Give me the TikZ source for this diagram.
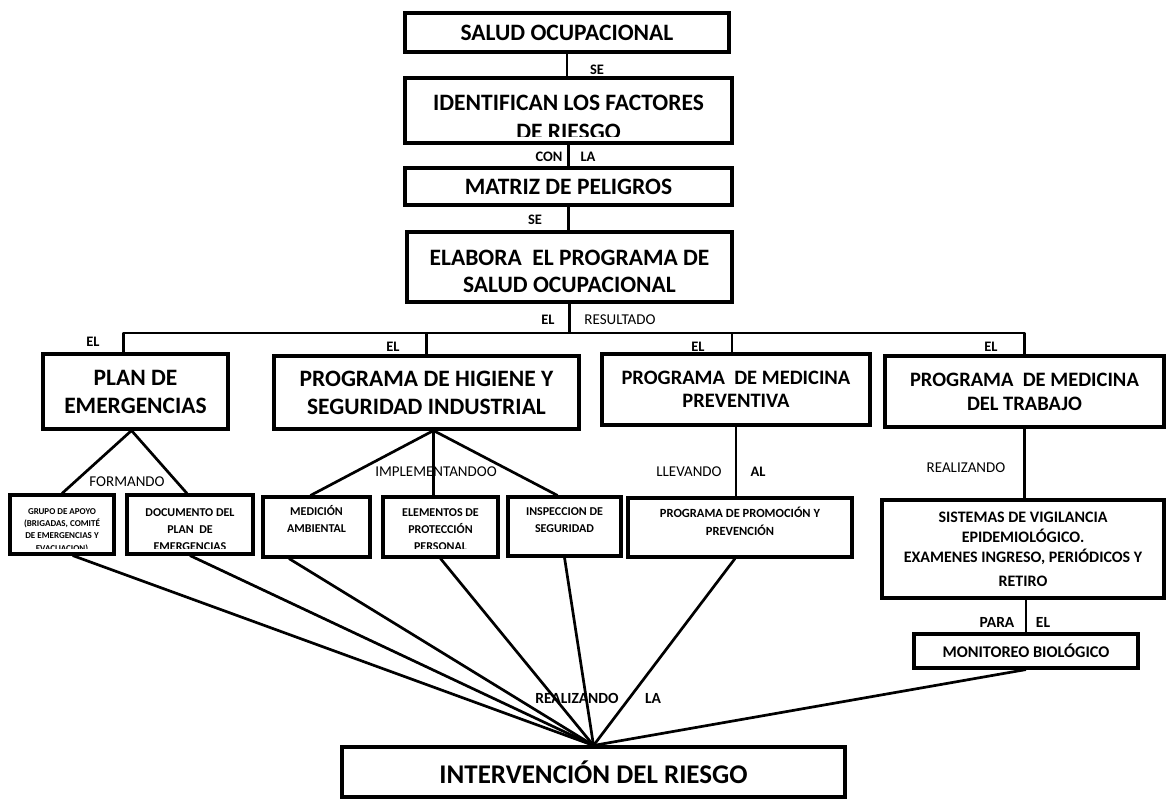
\documentclass[tikz,border=0pt]{standalone}
\usepackage{fontspec}
\setmainfont{Carlito}
\usetikzlibrary{positioning, calc}

\begin{document}
\begin{tikzpicture}[x=1pt, y=-1pt,
		box/.style={draw, line width=3.1pt, inner sep=0pt, align=center},
		bigtxt/.style={font=\bfseries\fontsize{23.5}{27}\selectfont},
		smalltxt/.style={inner sep=0pt, align=center, font=\bfseries\fontsize{12}{17}\selectfont},
		conn/.style={line width=2.7pt, line join=round},
		lbl/.style={inner sep=0pt, font=\bfseries\fontsize{14.5}{16}\selectfont},
		lblr/.style={inner sep=0pt, font=\fontsize{15}{17}\selectfont}]
		\useasboundingbox (0,0) rectangle (1167,808);

		% cadena superior
		\node[box, bigtxt, minimum width=324, minimum height=39] (salud) at (567,32.5) {SALUD OCUPACIONAL};
		\node[box, minimum width=327, minimum height=65] (identif) at (568.5,110.5) {};
		\begin{scope}
			\clip (identif.north west) rectangle ([yshift=8pt]identif.south east);
			\node[inner sep=0pt, align=center, font=\bfseries\fontsize{23.5}{29}\selectfont] (identiftxt) at (568.5,117) {IDENTIFICAN LOS FACTORES\\DE RIESGO};
		\end{scope}
		\node[box, bigtxt, minimum width=327, minimum height=37] (matriz) at (568.5,186.5) {MATRIZ DE PELIGROS};
		\node[box, minimum width=325, minimum height=70] (elabora) at (569.5,267) {};
		\node[inner sep=0pt, align=center, bigtxt] (elaboratxt) at (569.5,271.5) {ELABORA\ \ EL PROGRAMA DE\\SALUD OCUPACIONAL};

		% programas
		\node[box, bigtxt, font=\bfseries\fontsize{23.5}{28}\selectfont, minimum width=185, minimum height=75] (plan) at (135.5,391.5) {PLAN DE\\EMERGENCIAS};
		\node[box, bigtxt, font=\bfseries\fontsize{23.5}{28}\selectfont, minimum width=305, minimum height=73] (higiene) at (426.5,392.5) {PROGRAMA DE HIGIENE Y\\SEGURIDAD INDUSTRIAL};
		\node[box, font=\bfseries\fontsize{20.5}{23}\selectfont, minimum width=268, minimum height=71] (medprev) at (736,389.5) {PROGRAMA\ \ DE MEDICINA\\PREVENTIVA};
		\node[box, font=\bfseries\fontsize{20.5}{24}\selectfont, minimum width=279, minimum height=71] (medtrab) at (1024.5,391.5) {PROGRAMA\ \ DE MEDICINA\\DEL TRABAJO};

		% cajas pequenas
		\node[box, minimum width=104, minimum height=59] (grupo) at (62,524.5) {};
		\begin{scope}
			\clip (grupo.north west) rectangle ([yshift=7pt]grupo.south east);
			\node[smalltxt, font=\bfseries\fontsize{9}{12.3}\selectfont] (grupotxt) at (62,530.5) {GRUPO DE APOYO\\(BRIGADAS, COMITÉ\\DE EMERGENCIAS Y\\EVACUACION)};
		\end{scope}
		\node[box, minimum width=126, minimum height=59] (docu) at (190,524.5) {};
		\begin{scope}
			\clip (docu.north west) rectangle ([yshift=7pt]docu.south east);
			\node[smalltxt] (docutxt) at (190,529.5) {DOCUMENTO DEL\\PLAN\ \ DE\\EMERGENCIAS};
		\end{scope}
		\node[box, minimum width=107, minimum height=60] (medicion) at (316.5,527) {};
		\node[smalltxt] (mediciontxt) at (316.5,519) {MEDICIÓN\\AMBIENTAL};
		\node[box, minimum width=115, minimum height=60] (elementos) at (440.5,527) {};
		\begin{scope}
			\clip (elementos.north west) rectangle ([yshift=10pt]elementos.south east);
			\node[smalltxt] (elementostxt) at (440.5,530) {ELEMENTOS DE\\PROTECCIÓN\\PERSONAL};
		\end{scope}
		\node[box, minimum width=113, minimum height=59] (inspec) at (564.5,526.5) {};
		\node[smalltxt] (inspectxt) at (564.5,520.5) {INSPECCION DE\\SEGURIDAD};
		\node[box, minimum width=224, minimum height=59] (promo) at (740,527.5) {};
		\node[smalltxt, font=\bfseries\fontsize{12.5}{18}\selectfont] (promotxt) at (740,521) {PROGRAMA DE PROMOCIÓN Y\\PREVENCIÓN};
		\node[box, font=\bfseries\fontsize{16}{20}\selectfont, minimum width=282, minimum height=98] (sistemas) at (1023,549) {SISTEMAS DE VIGILANCIA\\EPIDEMIOLÓGICO.\\EXAMENES INGRESO, PERIÓDICOS Y\\[4pt]RETIRO};
		\node[box, font=\bfseries\fontsize{16.3}{18}\selectfont, minimum width=224, minimum height=34] (monitoreo) at (1026,651) {MONITOREO BIOLÓGICO};

		\node[box, font=\bfseries\fontsize{27}{30}\selectfont, minimum width=503, minimum height=50] (riesgo) at (593.5,772) {INTERVENCIÓN DEL RIESGO};

		% rotulos
		\node[lbl] (se1) at (597,70) {SE};
		\node[lbl] (con) at (549,157) {CON};
		\node[lbl] (la1) at (588,157) {LA};
		\node[lbl] (se2) at (535,220) {SE};
		\node[lbl] (el0) at (548,320) {EL};
		\node[lblr] (resultado) at (620,320) {RESULTADO};
		\node[lbl] (el1) at (93,342) {EL};
		\node[lbl] (el2) at (393,347) {EL};
		\node[lbl] (el3) at (698,347) {EL};
		\node[lbl] (el4) at (991,347) {EL};
		\node[lblr] (formando) at (127,482) {FORMANDO};
		\node[lblr] (implem) at (436,472) {IMPLEMENTANDOO};
		\node[lblr] (llevando) at (689,472) {LLEVANDO};
		\node[lbl] (al) at (758,472) {AL};
		\node[lblr] (realiz1) at (966,468) {REALIZANDO};
		\node[lbl, font=\bfseries\fontsize{15.5}{17}\selectfont] (para) at (997,622) {PARA};
		\node[lbl, font=\bfseries\fontsize{15.5}{17}\selectfont] (el5) at (1043,622) {EL};
		\node[lbl, font=\bfseries\fontsize{15.5}{17}\selectfont] (realiz2) at (577,698) {REALIZANDO};
		\node[lbl, font=\bfseries\fontsize{15.5}{17}\selectfont] (la2) at (653,698) {LA};

		% conectores
		\coordinate (bar) at (0,333);
		\draw[conn] (salud.south) -- (salud.south |- identif.north);
		\draw[conn] (identif.south) -- (identif.south |- matriz.north);
		\draw[conn] (matriz.south) -- (matriz.south |- elabora.north);
		\draw[conn] (elabora.south) -- (elabora.south |- bar);
		\draw[conn] ([xshift=-12pt]plan.north) |- (medtrab.north |- bar) -- (medtrab.north);
		\draw[conn] (higiene.north) -- (higiene.north |- bar);
		\draw[conn] ([xshift=-4pt]medprev.north) -- ([xshift=-4pt]medprev.north |- bar);

		\coordinate (planfork) at ([xshift=-4pt]plan.south);
		\draw[conn] (grupo.north) -- (planfork) -- ([xshift=-3pt]docu.north);
		\coordinate (higfork) at ([xshift=7pt]higiene.south);
		\draw[conn] ([xshift=-6pt]medicion.north) -- (higfork) -- ([xshift=-7pt]inspec.north);
		\draw[conn] (higfork) -- (higfork |- elementos.north);
		\draw[conn] (medprev.south) -- (medprev.south |- promo.north);
		\draw[conn] (medtrab.south) -- (medtrab.south |- sistemas.north);
		\draw[conn] (monitoreo.north |- sistemas.south) -- (monitoreo.north);

		\draw[conn] ($(grupo.south west)!0.6!(grupo.south east)$) -- (riesgo.north);
		\draw[conn] (docu.south) -- (riesgo.north);
		\draw[conn] ($(medicion.south west)!0.25!(medicion.south east)$) -- (riesgo.north);
		\draw[conn] (elementos.south) -- (riesgo.north);
		\draw[conn] (inspec.south) -- (riesgo.north);
		\draw[conn] ([xshift=-5pt]promo.south) -- (riesgo.north);
		\draw[conn] (monitoreo.south) -- (riesgo.north);

	\end{tikzpicture}
\end{document}
